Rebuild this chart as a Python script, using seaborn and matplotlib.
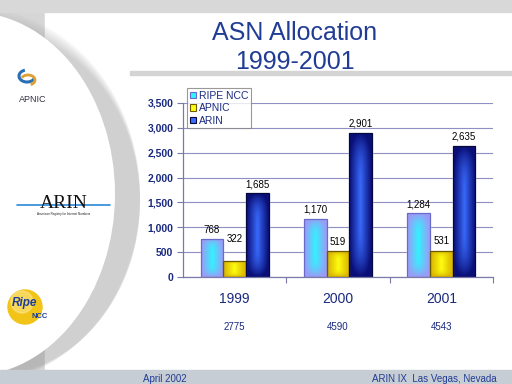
import numpy as np
import pandas as pd
import matplotlib
matplotlib.use("Agg")
import matplotlib.pyplot as plt
import seaborn as sns
from matplotlib.patches import Rectangle, Ellipse, Circle, Patch, Arc
from matplotlib.ticker import FuncFormatter, FixedLocator

# ---- data ----
years = ["1999", "2000", "2001"]
registries = ["RIPE NCC", "APNIC", "ARIN"]
ripe_ncc = [768, 1170, 1284]
apnic = [322, 519, 531]
arin = [1685, 2901, 2635]
totals = ["2775", "4590", "4543"]
title_lines = ["ASN Allocation", "1999-2001"]
footer_left = "April 2002"
footer_right = "ARIN IX  Las Vegas, Nevada"

df = pd.DataFrame({
    "year": years * 3,
    "registry": [r for r in registries for _ in years],
    "value": ripe_ncc + apnic + arin,
})

sns.set_theme(style="white")
plt.rcParams["font.family"] = ["Liberation Sans", "DejaVu Sans"]

NAVY = "#1a2a80"
TITLE = "#203c94"
edge_cols = {"RIPE NCC": "#9a9cf6", "APNIC": "#d9b400", "ARIN": "#0a0f78"}
center_cols = {"RIPE NCC": "#30f4ff", "APNIC": "#ffff10", "ARIN": "#3a6cff"}
outline_cols = {"RIPE NCC": "#6a6ac8", "APNIC": "#6e5a00", "ARIN": "#05083c"}

fig = plt.figure(figsize=(5.12, 3.84), dpi=100, facecolor="#dadada")

# ---- background slide ----
bg = fig.add_axes([0, 0, 1, 1], zorder=-5)
bg.set_xlim(0, 512)
bg.set_ylim(384, 0)
bg.axis("off")
bg.add_patch(Rectangle((0, 0), 512, 384, color="#d6d6d6", zorder=0))
bg.add_patch(Rectangle((45, 12), 467, 358, color="white", zorder=1))
for i in range(12):
    bg.add_patch(Ellipse((-25 + 1.6 * i, 196 + 0.6 * i), 2 * 165 - 3.2 * i, 2 * 188 - 3 * i,
                         color="#909090", alpha=0.04, zorder=2, lw=0))
bg.add_patch(Ellipse((-30, 194), 2 * 145, 2 * 182, color="white", zorder=3, lw=0))
bg.add_patch(Rectangle((130, 71), 382, 4, color="#d4d4d4", zorder=2))
bg.add_patch(Rectangle((0, 0), 512, 12, color="#d8d8d8", zorder=4))
bg.add_patch(Rectangle((0, 370), 512, 14, color="#c7cdd4", zorder=4))

# APNIC logo
bg.add_patch(Arc((27, 76), 16, 12, theta1=20, theta2=250, color="#2a6fb5", lw=2.2, zorder=5))
bg.add_patch(Arc((28, 80), 14, 10, theta1=200, theta2=420, color="#e0a030", lw=2.0, zorder=5))
bg.text(33, 99, "APNIC", fontsize=6.5, color="#333344", ha="center", va="center", zorder=6)
# ARIN logo
bg.plot([17, 110], [205, 205], color="#2a8ad8", lw=1.2, zorder=5)
bg.text(64, 203, "ARIN", family=["Liberation Serif", "DejaVu Serif"], fontsize=14,
        color="#111111", ha="center", va="center", zorder=6)
bg.text(64, 214, "American Registry for Internet Numbers", fontsize=2.2,
        color="#222222", ha="center", va="center", zorder=6)
# RIPE logo
bg.add_patch(Circle((25, 307), 17, color="#f2c418", zorder=5))
bg.add_patch(Circle((22, 302), 11, color="#fde78a", zorder=5, alpha=0.6))
bg.text(24, 303, "Ripe", fontsize=8.5, weight="bold", style="italic", color="#1d3e9a",
        ha="center", va="center", zorder=6)
bg.text(40, 316, "NCC", fontsize=5.5, weight="bold", color="#1d3e9a",
        ha="center", va="center", zorder=6)

# title & footer
fig.text(295 / 512, 1 - 33 / 384, title_lines[0], fontsize=18, color=TITLE, ha="center", va="center")
fig.text(295 / 512, 1 - 62 / 384, title_lines[1], fontsize=18, color=TITLE, ha="center", va="center")
fig.text(143 / 512, 1 - 379 / 384, footer_left, fontsize=7, color=TITLE, ha="left", va="center")
fig.text(497 / 512, 1 - 379 / 384, footer_right, fontsize=7, color=TITLE, ha="right", va="center")

# ---- chart ----
ax = fig.add_axes([183 / 512, 1 - 277 / 384, 310 / 512, 174 / 384])
ax.patch.set_alpha(0)
sns.barplot(data=df, x="year", y="value", hue="registry", order=years, hue_order=registries,
            palette=[edge_cols[r] for r in registries], width=0.66, gap=0, ax=ax,
            saturation=1, legend=False, errorbar=None)

ax.set_xlim(-0.5, 2.5)
ax.set_ylim(0, 3500)
ax.set_yticks(np.arange(0, 3501, 500))
ax.yaxis.set_major_formatter(FuncFormatter(lambda v, p: f"{int(v):,}"))
ax.grid(axis="y", color="#8f8fc4", lw=0.8)
ax.set_axisbelow(True)
for s in ["top", "right"]:
    ax.spines[s].set_visible(False)
for s in ["left", "bottom"]:
    ax.spines[s].set_color("#7a7aa8")
    ax.spines[s].set_linewidth(0.9)
ax.tick_params(axis="y", which="major", left=True, length=4, width=0.8, color="#7a7aa8",
               labelsize=7.5, labelcolor=NAVY, pad=3)
for t in ax.get_yticklabels():
    t.set_fontweight("bold")
ax.set_xticks(range(len(years)))
ax.set_xticklabels(years)
ax.tick_params(axis="x", which="major", length=0, labelsize=10, labelcolor=NAVY, pad=11)
ax.xaxis.set_minor_locator(FixedLocator([0.5, 1.5, 2.5]))
ax.tick_params(axis="x", which="minor", bottom=True, length=4, width=0.8, color="#7a7aa8")
ax.set_xlabel("")
ax.set_ylabel("")

# gradient fills
def grad_img(c_edge, c_center, n=80, m=24):
    ce = np.array(matplotlib.colors.to_rgb(c_edge))
    cc = np.array(matplotlib.colors.to_rgb(c_center))
    yy, xx = np.mgrid[-1:1:n * 1j, -1:1:m * 1j]
    t = np.clip(np.sqrt(xx ** 2 * 1.0 + (np.abs(yy) ** 6) * 1.0), 0, 1) ** 0.9
    return cc[None, None, :] * (1 - t[..., None]) + ce[None, None, :] * t[..., None]

for reg, cont in zip(registries, ax.containers):
    img = grad_img(edge_cols[reg], center_cols[reg])
    for bar in cont:
        x0, y0 = bar.get_x(), bar.get_y()
        w, h = bar.get_width(), bar.get_height()
        im = ax.imshow(img, extent=[x0, x0 + w, y0, y0 + h], aspect="auto",
                       origin="lower", zorder=bar.get_zorder() + 0.1, interpolation="bilinear")
        im.set_clip_path(bar)
        ax.add_patch(Rectangle((x0, y0), w, h, fill=False, edgecolor=outline_cols[reg],
                               lw=0.9, zorder=bar.get_zorder() + 0.2))
    extra = {"APNIC": [9, 0, 0]}.get(reg, [0, 0, 0])
    for j, bar in enumerate(cont):
        ax.annotate(f"{int(bar.get_height()):,}",
                    (bar.get_x() + bar.get_width() / 2, bar.get_height()),
                    xytext=(0, 3 + extra[j]), textcoords="offset points",
                    ha="center", va="bottom", fontsize=7, color="black")

ax.set_xlim(-0.5, 2.5)
ax.set_ylim(0, 3500)

# totals under years
for i, tot in enumerate(totals):
    ax.text(i, -0.29, tot, transform=ax.get_xaxis_transform(), ha="center", va="center",
            fontsize=7, color=NAVY)

# legend
handles = [Patch(facecolor=center_cols[r], edgecolor=outline_cols[r], lw=0.8) for r in registries]
leg = fig.legend(handles, registries, loc="upper left",
                 bbox_to_anchor=(187 / 512, 1 - 88 / 384), frameon=True, fancybox=False,
                 fontsize=7.5, handlelength=0.6, handleheight=0.6, handletextpad=0.3,
                 borderpad=0.25, labelspacing=0.25, borderaxespad=0)
leg.get_frame().set_edgecolor("#808080")
leg.get_frame().set_linewidth(0.8)
for t in leg.get_texts():
    t.set_color(NAVY)

fig.savefig("out.png", dpi=100, facecolor=fig.get_facecolor())
